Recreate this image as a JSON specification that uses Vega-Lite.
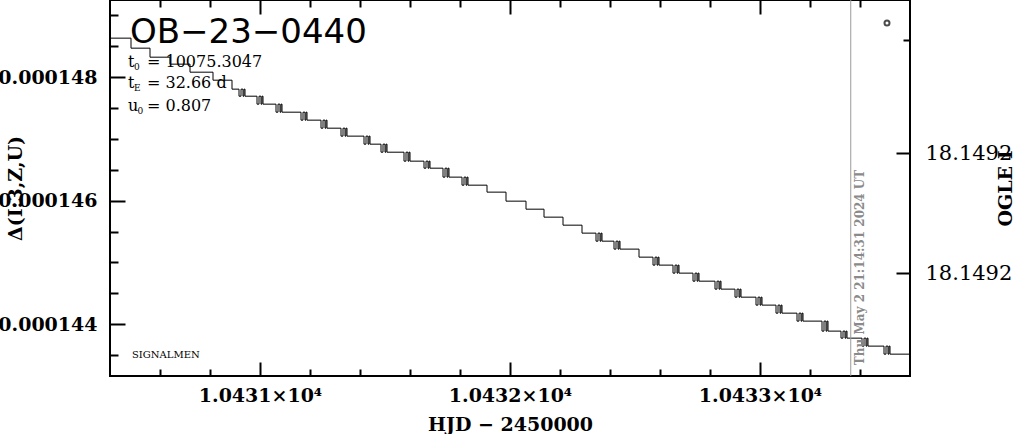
{
  "$schema": "https://vega.github.io/schema/vega-lite/v6.json",
  "width": 800,
  "height": 376,
  "autosize": {"type": "none"},
  "padding": {"left": 110, "top": 0, "right": 104, "bottom": 58},
  "background": "white",
  "config": {
    "view": {"stroke": "black", "strokeWidth": 2},
    "axis": {"domain": false, "grid": false, "tickColor": "black", "tickWidth": 2, "labelColor": "black", "titleColor": "black"}
  },
  "datasets": {
    "curve": [
      {"hjd": 10430.400, "delta": 0.000148632},
      {"hjd": 10430.484, "delta": 0.000148470},
      {"hjd": 10430.560, "delta": 0.000148324},
      {"hjd": 10430.640, "delta": 0.000148211},
      {"hjd": 10430.720, "delta": 0.000148081},
      {"hjd": 10430.812, "delta": 0.000147951},
      {"hjd": 10430.888, "delta": 0.000147806},
      {"hjd": 10430.916, "delta": 0.000147692},
      {"hjd": 10430.924, "delta": 0.000147806},
      {"hjd": 10430.932, "delta": 0.000147692},
      {"hjd": 10430.936, "delta": 0.000147806},
      {"hjd": 10430.940, "delta": 0.000147692},
      {"hjd": 10430.988, "delta": 0.000147563},
      {"hjd": 10430.996, "delta": 0.000147692},
      {"hjd": 10431.004, "delta": 0.000147563},
      {"hjd": 10431.008, "delta": 0.000147692},
      {"hjd": 10431.012, "delta": 0.000147563},
      {"hjd": 10431.064, "delta": 0.000147433},
      {"hjd": 10431.072, "delta": 0.000147563},
      {"hjd": 10431.080, "delta": 0.000147433},
      {"hjd": 10431.084, "delta": 0.000147563},
      {"hjd": 10431.088, "delta": 0.000147433},
      {"hjd": 10431.164, "delta": 0.000147304},
      {"hjd": 10431.172, "delta": 0.000147433},
      {"hjd": 10431.180, "delta": 0.000147304},
      {"hjd": 10431.184, "delta": 0.000147433},
      {"hjd": 10431.188, "delta": 0.000147304},
      {"hjd": 10431.244, "delta": 0.000147174},
      {"hjd": 10431.252, "delta": 0.000147304},
      {"hjd": 10431.260, "delta": 0.000147174},
      {"hjd": 10431.264, "delta": 0.000147304},
      {"hjd": 10431.268, "delta": 0.000147174},
      {"hjd": 10431.324, "delta": 0.000147045},
      {"hjd": 10431.332, "delta": 0.000147174},
      {"hjd": 10431.340, "delta": 0.000147045},
      {"hjd": 10431.344, "delta": 0.000147174},
      {"hjd": 10431.348, "delta": 0.000147045},
      {"hjd": 10431.416, "delta": 0.000146915},
      {"hjd": 10431.424, "delta": 0.000147045},
      {"hjd": 10431.432, "delta": 0.000146915},
      {"hjd": 10431.436, "delta": 0.000147045},
      {"hjd": 10431.440, "delta": 0.000146915},
      {"hjd": 10431.484, "delta": 0.000146785},
      {"hjd": 10431.492, "delta": 0.000146915},
      {"hjd": 10431.500, "delta": 0.000146785},
      {"hjd": 10431.504, "delta": 0.000146915},
      {"hjd": 10431.508, "delta": 0.000146785},
      {"hjd": 10431.576, "delta": 0.000146640},
      {"hjd": 10431.584, "delta": 0.000146785},
      {"hjd": 10431.592, "delta": 0.000146640},
      {"hjd": 10431.596, "delta": 0.000146785},
      {"hjd": 10431.600, "delta": 0.000146640},
      {"hjd": 10431.656, "delta": 0.000146526},
      {"hjd": 10431.664, "delta": 0.000146640},
      {"hjd": 10431.672, "delta": 0.000146526},
      {"hjd": 10431.676, "delta": 0.000146640},
      {"hjd": 10431.680, "delta": 0.000146526},
      {"hjd": 10431.732, "delta": 0.000146381},
      {"hjd": 10431.740, "delta": 0.000146526},
      {"hjd": 10431.748, "delta": 0.000146381},
      {"hjd": 10431.752, "delta": 0.000146526},
      {"hjd": 10431.756, "delta": 0.000146381},
      {"hjd": 10431.808, "delta": 0.000146251},
      {"hjd": 10431.816, "delta": 0.000146381},
      {"hjd": 10431.824, "delta": 0.000146251},
      {"hjd": 10431.828, "delta": 0.000146381},
      {"hjd": 10431.832, "delta": 0.000146251},
      {"hjd": 10431.908, "delta": 0.000146138},
      {"hjd": 10431.984, "delta": 0.000145992},
      {"hjd": 10432.064, "delta": 0.000145862},
      {"hjd": 10432.136, "delta": 0.000145733},
      {"hjd": 10432.212, "delta": 0.000145603},
      {"hjd": 10432.288, "delta": 0.000145474},
      {"hjd": 10432.344, "delta": 0.000145344},
      {"hjd": 10432.352, "delta": 0.000145474},
      {"hjd": 10432.360, "delta": 0.000145344},
      {"hjd": 10432.364, "delta": 0.000145474},
      {"hjd": 10432.368, "delta": 0.000145344},
      {"hjd": 10432.416, "delta": 0.000145215},
      {"hjd": 10432.424, "delta": 0.000145344},
      {"hjd": 10432.432, "delta": 0.000145215},
      {"hjd": 10432.436, "delta": 0.000145344},
      {"hjd": 10432.440, "delta": 0.000145215},
      {"hjd": 10432.516, "delta": 0.000145085},
      {"hjd": 10432.572, "delta": 0.000144956},
      {"hjd": 10432.580, "delta": 0.000145085},
      {"hjd": 10432.588, "delta": 0.000144956},
      {"hjd": 10432.592, "delta": 0.000145085},
      {"hjd": 10432.596, "delta": 0.000144956},
      {"hjd": 10432.652, "delta": 0.000144826},
      {"hjd": 10432.660, "delta": 0.000144956},
      {"hjd": 10432.668, "delta": 0.000144826},
      {"hjd": 10432.672, "delta": 0.000144956},
      {"hjd": 10432.676, "delta": 0.000144826},
      {"hjd": 10432.732, "delta": 0.000144696},
      {"hjd": 10432.740, "delta": 0.000144826},
      {"hjd": 10432.748, "delta": 0.000144696},
      {"hjd": 10432.752, "delta": 0.000144826},
      {"hjd": 10432.756, "delta": 0.000144696},
      {"hjd": 10432.820, "delta": 0.000144567},
      {"hjd": 10432.828, "delta": 0.000144696},
      {"hjd": 10432.836, "delta": 0.000144567},
      {"hjd": 10432.840, "delta": 0.000144696},
      {"hjd": 10432.844, "delta": 0.000144567},
      {"hjd": 10432.900, "delta": 0.000144437},
      {"hjd": 10432.908, "delta": 0.000144567},
      {"hjd": 10432.916, "delta": 0.000144437},
      {"hjd": 10432.920, "delta": 0.000144567},
      {"hjd": 10432.924, "delta": 0.000144437},
      {"hjd": 10432.984, "delta": 0.000144308},
      {"hjd": 10432.992, "delta": 0.000144437},
      {"hjd": 10433.000, "delta": 0.000144308},
      {"hjd": 10433.004, "delta": 0.000144437},
      {"hjd": 10433.008, "delta": 0.000144308},
      {"hjd": 10433.064, "delta": 0.000144178},
      {"hjd": 10433.072, "delta": 0.000144308},
      {"hjd": 10433.080, "delta": 0.000144178},
      {"hjd": 10433.084, "delta": 0.000144308},
      {"hjd": 10433.088, "delta": 0.000144178},
      {"hjd": 10433.148, "delta": 0.000144049},
      {"hjd": 10433.156, "delta": 0.000144178},
      {"hjd": 10433.164, "delta": 0.000144049},
      {"hjd": 10433.168, "delta": 0.000144178},
      {"hjd": 10433.172, "delta": 0.000144049},
      {"hjd": 10433.248, "delta": 0.000143887},
      {"hjd": 10433.256, "delta": 0.000144049},
      {"hjd": 10433.264, "delta": 0.000143887},
      {"hjd": 10433.268, "delta": 0.000144049},
      {"hjd": 10433.272, "delta": 0.000143887},
      {"hjd": 10433.324, "delta": 0.000143773},
      {"hjd": 10433.332, "delta": 0.000143887},
      {"hjd": 10433.340, "delta": 0.000143773},
      {"hjd": 10433.344, "delta": 0.000143887},
      {"hjd": 10433.348, "delta": 0.000143773},
      {"hjd": 10433.408, "delta": 0.000143644},
      {"hjd": 10433.416, "delta": 0.000143773},
      {"hjd": 10433.424, "delta": 0.000143644},
      {"hjd": 10433.428, "delta": 0.000143773},
      {"hjd": 10433.432, "delta": 0.000143644},
      {"hjd": 10433.496, "delta": 0.000143514},
      {"hjd": 10433.504, "delta": 0.000143644},
      {"hjd": 10433.512, "delta": 0.000143514},
      {"hjd": 10433.516, "delta": 0.000143644},
      {"hjd": 10433.520, "delta": 0.000143514},
      {"hjd": 10433.600, "delta": 0.000143400},
      {"hjd": 10433.620, "delta": 0.000143400}
    ],
    "title": [
      {"hjd": 10430.48, "delta": 0.000148551, "label": "OB−23−0440"}
    ],
    "params": [
      {"hjd": 10430.472, "delta": 0.000148162, "label": "t"},
      {"hjd": 10430.548, "delta": 0.000148162, "label": "= 10075.3047"},
      {"hjd": 10430.472, "delta": 0.000147822, "label": "t"},
      {"hjd": 10430.548, "delta": 0.000147822, "label": "= 32.66 d"},
      {"hjd": 10430.472, "delta": 0.000147449, "label": "u"},
      {"hjd": 10430.548, "delta": 0.000147449, "label": "= 0.807"}
    ],
    "subs": [
      {"hjd": 10430.496, "delta": 0.000148113, "label": "0"},
      {"hjd": 10430.496, "delta": 0.000147773, "label": "E"},
      {"hjd": 10430.510, "delta": 0.000147401, "label": "0"}
    ],
    "credit": [
      {"hjd": 10430.488, "delta": 0.000143449, "label": "SIGNALMEN"}
    ],
    "now": [
      {"hjd": 10433.363}
    ],
    "nowtext": [
      {"hjd": 10433.414, "delta": 0.000143336, "label": "Thu May  2 21:14:31 2024 UT"}
    ],
    "ogle": [
      {"hjd": 10433.508, "mag": 18.1491567}
    ]
  },
  "layer": [
    {
      "layer": [
        {
          "data": {"name": "curve"},
          "mark": {"type": "line", "interpolate": "step-after", "color": "black", "strokeWidth": 1, "clip": true},
          "encoding": {
            "x": {
              "field": "hjd", "type": "quantitative",
              "scale": {"domain": [10430.4, 10433.6], "nice": false, "zero": false},
              "axis": {
                "orient": "bottom",
                "values": [10430.6, 10430.8, 10431, 10431.2, 10431.4, 10431.6, 10431.8, 10432, 10432.2, 10432.4, 10432.6, 10432.8, 10433, 10433.2, 10433.4],
                "tickCount": 50,
                "labelExpr": "abs(datum.value - round(datum.value)) < 0.001 ? '1.0' + format(datum.value - 10000, 'd') + '×10⁴' : ''",
                "tickSize": {"condition": {"test": "abs(datum.value - round(datum.value)) < 0.001", "value": -14}, "value": -7},
                "labelPadding": 24,
                "labelFont": "DejaVu Serif", "labelFontWeight": "bold", "labelFontSize": 19,
                "labelFlush": false, "labelOverlap": false,
                "title": "HJD  −  2450000",
                "titleFont": "DejaVu Serif", "titleFontWeight": "bold", "titleFontSize": 19,
                "titleY": 48, "titleBaseline": "middle"
              }
            },
            "y": {
              "field": "delta", "type": "quantitative",
              "scale": {"domain": [0.00014316, 0.00014925], "nice": false, "zero": false},
              "axis": {
                "orient": "left",
                "values": [0.0001435, 0.000144, 0.0001445, 0.000145, 0.0001455, 0.000146, 0.0001465, 0.000147, 0.0001475, 0.000148, 0.0001485, 0.000149],
                "tickCount": 50,
                "labelExpr": "round(datum.value*2e6) % 4 == 0 ? format(datum.value, '.6f') : ''",
                "tickSize": {"condition": {"test": "round(datum.value*2e6) % 4 == 0", "value": -15}, "value": -8},
                "labelPadding": 28,
                "labelFont": "DejaVu Serif", "labelFontWeight": "bold", "labelFontSize": 19,
                "labelFlush": false, "labelOverlap": false, "labelBaseline": "middle",
                "title": "Δ(I:3,Z,U)",
                "titleFont": "DejaVu Serif", "titleFontWeight": "bold", "titleFontSize": 19,
                "titleX": -95, "titleY": 188, "titleAngle": 270, "titleAlign": "center", "titleBaseline": "middle"
              }
            }
          }
        },
        {
          "data": {"name": "now"},
          "mark": {"type": "rule", "color": "#9a9a9a", "strokeWidth": 1},
          "encoding": {"x": {"field": "hjd", "type": "quantitative"}}
        },
        {
          "data": {"name": "nowtext"},
          "mark": {"type": "text", "angle": 270, "align": "left", "baseline": "alphabetic", "font": "DejaVu Serif", "fontWeight": "bold", "fontSize": 12, "color": "#8a8a8a"},
          "encoding": {
            "x": {"field": "hjd", "type": "quantitative"},
            "y": {"field": "delta", "type": "quantitative"},
            "text": {"field": "label"}
          }
        },
        {
          "data": {"name": "title"},
          "mark": {"type": "text", "align": "left", "baseline": "alphabetic", "font": "DejaVu Sans", "fontSize": 34, "color": "black"},
          "encoding": {
            "x": {"field": "hjd", "type": "quantitative"},
            "y": {"field": "delta", "type": "quantitative"},
            "text": {"field": "label"}
          }
        },
        {
          "data": {"name": "params"},
          "mark": {"type": "text", "align": "left", "baseline": "alphabetic", "font": "DejaVu Serif", "fontSize": 16, "color": "black"},
          "encoding": {
            "x": {"field": "hjd", "type": "quantitative"},
            "y": {"field": "delta", "type": "quantitative"},
            "text": {"field": "label"}
          }
        },
        {
          "data": {"name": "subs"},
          "mark": {"type": "text", "align": "left", "baseline": "alphabetic", "font": "DejaVu Serif", "fontSize": 9, "color": "black"},
          "encoding": {
            "x": {"field": "hjd", "type": "quantitative"},
            "y": {"field": "delta", "type": "quantitative"},
            "text": {"field": "label"}
          }
        },
        {
          "data": {"name": "credit"},
          "mark": {"type": "text", "align": "left", "baseline": "alphabetic", "font": "DejaVu Serif", "fontSize": 10, "color": "black"},
          "encoding": {
            "x": {"field": "hjd", "type": "quantitative"},
            "y": {"field": "delta", "type": "quantitative"},
            "text": {"field": "label"}
          }
        }
      ]
    },
    {
      "data": {"name": "ogle"},
      "mark": {"type": "point", "shape": "circle", "filled": false, "stroke": "black", "strokeWidth": 2, "size": 25},
      "encoding": {
        "x": {
          "field": "hjd", "type": "quantitative",
          "axis": {
            "orient": "top",
            "values": [10430.6, 10430.8, 10431, 10431.2, 10431.4, 10431.6, 10431.8, 10432, 10432.2, 10432.4, 10432.6, 10432.8, 10433, 10433.2, 10433.4],
            "tickCount": 50,
            "labels": false,
            "tickSize": {"condition": {"test": "abs(datum.value - round(datum.value)) < 0.001", "value": -14}, "value": -7},
            "title": null
          }
        },
        "y": {
          "field": "mag", "type": "quantitative",
          "scale": {"domain": [18.149149, 18.1492743], "reverse": true, "nice": false, "zero": false},
          "axis": {
            "orient": "right",
            "values": [18.1491623, 18.1492, 18.14924],
            "tickCount": 50,
            "labelExpr": "datum.value > 18.14918 ? format(datum.value, '.4f') : ''",
            "tickSize": {"condition": {"test": "datum.value > 18.14918", "value": -14}, "value": -7},
            "labelPadding": 29,
            "labelFont": "DejaVu Serif", "labelFontSize": 21, "labelBaseline": "middle",
            "labelFlush": false, "labelOverlap": false,
            "title": "OGLE I",
            "titleFont": "DejaVu Serif", "titleFontWeight": "bold", "titleFontSize": 19,
            "titleX": 95, "titleY": 188, "titleAngle": 270, "titleAlign": "center", "titleBaseline": "middle"
          }
        }
      }
    }
  ],
  "resolve": {"scale": {"y": "independent"}, "axis": {"x": "independent", "y": "independent"}}
}
